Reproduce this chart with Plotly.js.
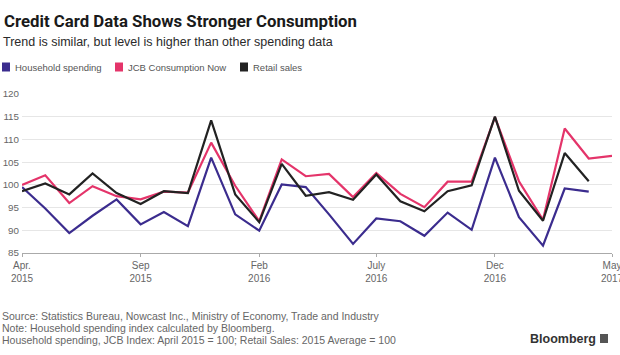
<!DOCTYPE html>
<html>
<head>
<meta charset="utf-8">
<script src="https://cdn.plot.ly/plotly-3.0.1.min.js"></script>
<style>
html,body{margin:0;padding:0;background:#fff;}
#chart{width:620px;height:355px;}
</style>
</head>
<body>
<div id="chart"></div>
<script>
// ---- data ----
var months = ['2015-04-01','2015-05-01','2015-06-01','2015-07-01','2015-08-01','2015-09-01','2015-10-01','2015-11-01','2015-12-01',
  '2016-01-01','2016-02-01','2016-03-01','2016-04-01','2016-05-01','2016-06-01','2016-07-01','2016-08-01','2016-09-01','2016-10-01',
  '2016-11-01','2016-12-01','2017-01-01','2017-02-01','2017-03-01','2017-04-01','2017-05-01'];
var seriesNames = ['Household spending','JCB Consumption Now','Retail sales'];
var household = [99.5, 94.8, 89.4, 93.2, 96.8, 91.3, 94.0, 90.9, 106.0, 93.5, 89.9, 100.1, 99.5, 93.5, 87.0, 92.6, 92.0, 88.8, 93.9, 90.1, 106.0, 92.9, 86.6, 99.2, 98.5];
var jcb = [100, 102.1, 96.0, 99.7, 97.5, 96.8, 98.5, 98.3, 109.3, 99.8, 92.0, 105.6, 101.9, 102.4, 97.3, 102.6, 98.0, 95.1, 100.7, 100.7, 114.9, 100.8, 92.3, 112.4, 105.8, 106.4];
var retail = [98.6, 100.3, 97.9, 102.5, 98.2, 95.8, 98.6, 98.2, 114.2, 97.9, 91.8, 104.6, 97.6, 98.4, 96.7, 102.3, 96.4, 94.2, 98.6, 99.9, 115.0, 98.7, 92.1, 107.0, 100.8];
var xTickVals = ['2015-04-01','2015-09-01','2016-02-01','2016-07-01','2016-12-01','2017-05-01'];
var xTickText = ['Apr.<br>2015','Sep<br>2015','Feb<br>2016','July<br>2016','Dec<br>2016','May<br>2017'];
var yTickVals = [85, 90, 95, 100, 105, 110, 115, 120];
var titleText = 'Credit Card Data Shows Stronger Consumption';
var subtitleText = 'Trend is similar, but level is higher than other spending data';
var footerLines = ['Source: Statistics Bureau, Nowcast Inc., Ministry of Economy, Trade and Industry',
  'Note: Household spending index calculated by Bloomberg.',
  'Household spending, JCB Index: April 2015 = 100; Retail Sales: 2015 Average = 100'];

// ---- styles ----
var colors = ['#3b2c8e', '#e4346a', '#222222'];
var W = 620, H = 355, ML = 22, MR = 8, MT = 94, MB = 102;
var PW = W - ML - MR, PH = H - MT - MB;
function px(x){ return (x - ML) / PW; }
function py(y){ return (H - MB - y) / PH; }
var FONT = 'Liberation Sans, Arial, sans-serif';

var traces = [household, jcb, retail].map(function(vals, i){
  return {
    x: months.slice(0, vals.length), y: vals, type: 'scatter', mode: 'lines',
    name: seriesNames[i], line: {color: colors[i], width: 2.2}, hoverinfo: 'skip'
  };
});
var annotations = [
  {text: '<b>' + titleText + '</b>', x: px(2), y: py(20.5), xref: 'paper', yref: 'paper', xanchor: 'left', yanchor: 'middle',
   showarrow: false, font: {family: 'Roboto, Liberation Sans, sans-serif', size: 16.8, color: '#1a1a1a'}},
  {text: subtitleText, x: px(1), y: py(42.5), xref: 'paper', yref: 'paper', xanchor: 'left', yanchor: 'middle',
   showarrow: false, font: {family: FONT, size: 12.5, color: '#2a2a2a'}}
];
var legendX = [13, 126, 251], legendSq = [2, 115, 240];
var shapes = [];
seriesNames.forEach(function(n, i){
  annotations.push({text: n, x: px(legendX[i]), y: py(67), xref: 'paper', yref: 'paper', xanchor: 'left', yanchor: 'middle',
    showarrow: false, font: {family: FONT, size: 9.5, color: '#555'}});
  shapes.push({type: 'rect', xref: 'paper', yref: 'paper', x0: px(legendSq[i]), x1: px(legendSq[i] + 8), y0: py(71.5), y1: py(62.5),
    fillcolor: colors[i], line: {width: 0}});
});
footerLines.forEach(function(t, i){
  annotations.push({text: t, x: px(0), y: py(315.5 + i * 12), xref: 'paper', yref: 'paper', xanchor: 'left', yanchor: 'middle',
    showarrow: false, font: {family: FONT, size: 10.5, color: '#666'}});
});
annotations.push({text: '<b>Bloomberg</b>', x: px(598), y: py(339), xref: 'paper', yref: 'paper', xanchor: 'right', yanchor: 'middle',
  showarrow: false, font: {family: FONT, size: 12.5, color: '#333'}});
shapes.push({type: 'rect', xref: 'paper', yref: 'paper', x0: px(600), x1: px(608), y0: py(343), y1: py(334),
  fillcolor: '#555', line: {width: 0}});

var layout = {
  width: W, height: H, margin: {l: ML, r: MR, t: MT, b: MB, pad: 0},
  paper_bgcolor: '#ffffff', plot_bgcolor: '#ffffff', showlegend: false,
  font: {family: FONT, size: 10, color: '#666'},
  xaxis: {type: 'date', range: ['2015-04-01', '2017-05-01'], tickmode: 'array', tickvals: xTickVals, ticktext: xTickText,
    showgrid: false, zeroline: false, showline: true, linecolor: '#aaa', linewidth: 1, ticklabeloverflow: 'allow',
    ticks: 'outside', ticklen: 3, tickcolor: '#aaa', tickfont: {family: FONT, size: 10, color: '#666'}, fixedrange: true},
  yaxis: {range: [85, 120], tickmode: 'array', tickvals: yTickVals, showgrid: true, gridcolor: '#e6e6e6', gridwidth: 1,
    zeroline: false, showline: false, ticks: '', tickfont: {family: FONT, size: 9.8, color: '#666'}, ticklabelstandoff: 2,
    fixedrange: true},
  annotations: annotations, shapes: shapes
};
Plotly.newPlot('chart', traces, layout, {staticPlot: true, displayModeBar: false});
</script>
</body>
</html>
